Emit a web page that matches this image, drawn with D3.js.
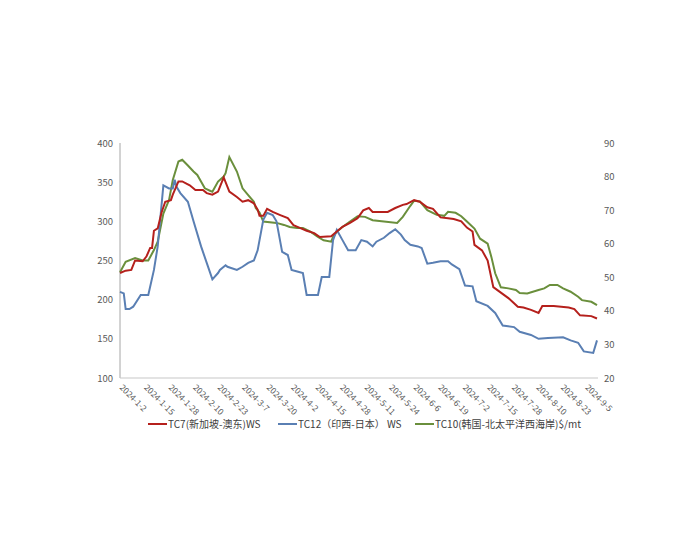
<!DOCTYPE html>
<html>
<head>
<meta charset="utf-8">
<script src="https://cdn.jsdelivr.net/npm/d3@7"></script>
<style>
  body { margin: 0; background: #fff; }
</style>
</head>
<body>
<script>
// TC7 新加坡-澳东 (WS, left axis)
let tc7Dates = ["1-2","1-5","1-8","1-10","1-14","1-16","1-18","1-19","1-20","1-22","1-24","1-26","1-29","1-30",
  "2-2","2-4","2-8","2-11","2-15","2-17","2-20","2-23","2-26","2-29","3-4","3-7","3-10","3-13","3-15","3-16",
  "3-18","3-20","3-23","3-27","3-31","4-3","4-7","4-10","4-14","4-17","4-23","4-26","4-29","5-3","5-7","5-10",
  "5-13","5-15","5-23","5-27","5-31","6-2","6-6","6-9","6-13","6-16","6-20","6-24","6-27","7-1","7-4","7-7",
  "7-8","7-12","7-15","7-18","7-22","7-26","7-31","8-3","8-7","8-11","8-13","8-19","8-27","8-30","9-2","9-8","9-11"];
let tc7Values = [234,237,238,250,249,255,266,266,288,291,311,325,327,334,
  351,351,346,340,340,336,334,338,356,338,331,325,327,323,315,307,
  307,316,312,308,304,295,291,288,285,280,281,287,293,298,304,314,
  317,312,312,317,321,322,327,325,318,316,305,304,303,300,292,287,
  270,263,250,216,209,202,191,190,187,183,192,192,190,188,180,179,176];

// TC12 印西-日本 (WS, left axis)
let tc12Dates = ["1-2","1-4","1-5","1-7","1-9","1-13","1-17","1-20","1-22","1-25","1-28","1-30","1-31","2-1",
  "2-3","2-7","2-10","2-14","2-17","2-20","2-23","2-24","2-27","2-28","3-4","3-7","3-10","3-13","3-15","3-18",
  "3-20","3-23","3-25","3-28","3-31","4-2","4-5","4-8","4-10","4-16","4-18","4-22","4-24","4-26","4-29","5-2",
  "5-6","5-9","5-12","5-15","5-17","5-21","5-24","5-27","5-30","6-1","6-4","6-8","6-10","6-13","6-16","6-20",
  "6-24","6-26","6-30","7-3","7-7","7-9","7-15","7-19","7-23","7-29","8-1","8-7","8-11","8-16","8-24","8-28",
  "9-1","9-4","9-9","9-11"];
let tc12Values = [210,208,188,188,191,206,206,238,268,346,342,342,353,344,
  336,325,300,268,247,226,234,238,244,242,238,242,247,250,263,302,
  311,308,300,261,257,238,236,234,206,206,229,229,276,289,276,263,
  263,276,274,268,274,279,285,290,283,276,270,268,266,246,247,249,
  249,245,239,218,217,198,192,183,167,165,159,155,150,151,152,148,
  145,134,132,148];

// TC10 韩国-北太平洋西海岸 ($/mt, right axis)
let tc10Dates = ["1-2","1-5","1-10","1-14","1-17","1-20","1-22","1-25","1-28","1-30","2-2","2-4","2-7","2-10",
  "2-12","2-16","2-19","2-20","2-23","2-26","2-27","2-29","3-4","3-7","3-10","3-13","3-14","3-16","3-18","3-25",
  "3-29","4-1","4-5","4-8","4-12","4-16","4-19","4-23","4-24","4-26","4-29","5-3","5-7","5-11","5-15","5-21",
  "5-28","5-31","6-4","6-6","6-9","6-13","6-18","6-22","6-24","6-28","7-1","7-4","7-8","7-11","7-15","7-17",
  "7-19","7-22","7-26","7-30","8-1","8-5","8-11","8-14","8-17","8-21","8-24","8-28","9-1","9-3","9-8","9-11"];
let tc10Values = [51.5,54.6,55.7,55,55,58.1,60.6,69,73,79,84.5,85,83.3,81.5,
  80.5,76.5,75.7,75.5,78.5,80,81,85.8,81.5,76.5,74.5,72.5,70.6,69.3,66.6,66.2,
  65.6,65,64.7,64.7,63.6,62,61,60.6,62,63.6,65,66.6,68.2,68,67,66.6,
  66.2,68,71.3,72.8,72.6,70,68.6,68.3,69.5,69.2,68.2,66.6,64.5,61.5,60,56,
  51.2,47,46.7,46.2,45.3,45.2,46.2,46.7,47.7,47.7,46.7,45.7,44.2,43.2,42.7,41.7];

let leftTicks = [100,150,200,250,300,350,400];
let rightTicks = [20,30,40,50,60,70,80,90];
let xTickLabels = ["1-2","1-15","1-28","2-10","2-23","3-7","3-20","4-2","4-15","4-28",
  "5-11","5-24","6-6","6-19","7-2","7-15","7-28","8-10","8-23","9-5"];

let seriesNames = ["TC7(新加坡-澳东)WS", "TC12（印西-日本） WS", "TC10(韩国-北太平洋西海岸)$/mt"];
let seriesColors = ["#b5201c", "#5a7fb3", "#6a8f3c"];

let canvasW = 700;
let canvasH = 550;
let parse = d3.timeParse("%Y-%m-%d");
let toDate = s => parse("2024-" + s);

let svg = d3.select("body").append("svg")
  .attr("width", canvasW)
  .attr("height", canvasH)
  .style("font-family", "'Noto Sans CJK SC', 'Noto Sans', sans-serif");

let x = d3.scaleTime()
  .domain([toDate("1-2"), toDate("9-11")])
  .range([120, 597]);
let yL = d3.scaleLinear().domain([100, 400]).range([378, 143]);
let yR = d3.scaleLinear().domain([20, 90]).range([378, 143]);

// axes lines
svg.append("line")
  .attr("x1", 120).attr("x2", 120)
  .attr("y1", yL(400)).attr("y2", yL(100))
  .attr("stroke", "#a6a6a6").attr("stroke-width", 1);
svg.append("line")
  .attr("x1", 120).attr("x2", 598)
  .attr("y1", yL(100)).attr("y2", yL(100))
  .attr("stroke", "#c8c8c8").attr("stroke-width", 1.2);

// left tick labels
svg.selectAll(".lt")
  .data(leftTicks)
  .enter().append("text")
    .attr("x", 113)
    .attr("y", d => yL(d) + 3.5)
    .attr("text-anchor", "end")
    .attr("font-size", "9.5px")
    .attr("fill", "#595959")
    .text(d => d);

// right tick labels
svg.selectAll(".rt")
  .data(rightTicks)
  .enter().append("text")
    .attr("x", 604)
    .attr("y", d => yR(d) + 3.5)
    .attr("font-size", "9.5px")
    .attr("fill", "#595959")
    .text(d => d);

// x tick labels, rotated
svg.selectAll(".xt")
  .data(xTickLabels)
  .enter().append("text")
    .attr("font-size", "8.5px")
    .attr("fill", "#595959")
    .attr("transform", d => "translate(" + (x(toDate(d)) - 1) + ",388) rotate(45)")
    .text(d => "2024-" + d);

// lines
let lineL = d3.line().x(d => x(d[0])).y(d => yL(d[1]));
let lineR = d3.line().x(d => x(d[0])).y(d => yR(d[1]));

let tc7 = tc7Dates.map((d, i) => [toDate(d), tc7Values[i]]);
let tc12 = tc12Dates.map((d, i) => [toDate(d), tc12Values[i]]);
let tc10 = tc10Dates.map((d, i) => [toDate(d), tc10Values[i]]);

svg.append("path").datum(tc10)
  .attr("d", lineR).attr("fill", "none")
  .attr("stroke", seriesColors[2]).attr("stroke-width", 2);
svg.append("path").datum(tc12)
  .attr("d", lineL).attr("fill", "none")
  .attr("stroke", seriesColors[1]).attr("stroke-width", 2);
svg.append("path").datum(tc7)
  .attr("d", lineL).attr("fill", "none")
  .attr("stroke", seriesColors[0]).attr("stroke-width", 2);

// legend
let legendX = [148, 278, 415];
let legend = svg.selectAll(".lg")
  .data(seriesNames)
  .enter().append("g")
    .attr("transform", (d, i) => "translate(" + legendX[i] + ",424)");
legend.append("line")
  .attr("x1", 0).attr("x2", 19)
  .attr("y1", 0).attr("y2", 0)
  .attr("stroke", (d, i) => seriesColors[i])
  .attr("stroke-width", 2);
legend.append("text")
  .attr("x", 20)
  .attr("y", 3.5)
  .attr("font-size", "10px")
  .attr("fill", "#404040")
  .text(d => d);
</script>
</body>
</html>
